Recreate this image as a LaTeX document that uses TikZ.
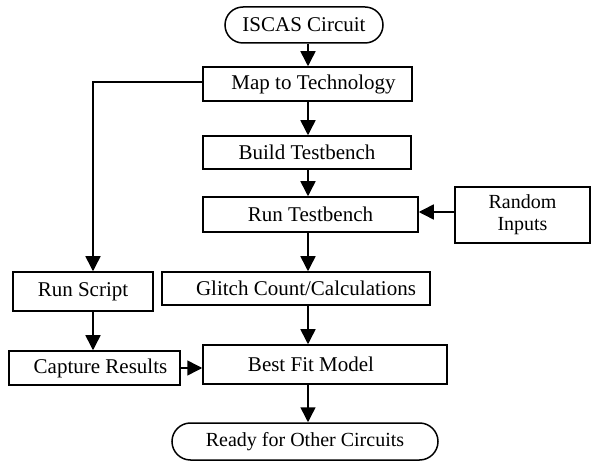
\documentclass[tikz,border=0pt]{standalone}
\usepackage{fontspec}
\setmainfont{Liberation Serif}
\usetikzlibrary{arrows.meta,shapes.misc}
\begin{document}
\begin{tikzpicture}[x=1pt,y=-1pt,
  every node/.style={font=\fontsize{21}{23}\selectfont, inner sep=0pt, line width=1.5pt},
  box/.style={draw, rectangle},
  term/.style={draw, rounded rectangle},
  lbl/.style={font=\fontsize{21}{23}\selectfont},
  arr/.style={line width=1.5pt, -{Triangle[length=15pt,width=15pt]}},
  ln/.style={line width=1.5pt}]
\useasboundingbox (0,0) rectangle (592,462);
\coordinate (trunk) at (308,0);
\coordinate (leftx) at (93,0);
\node[term, minimum width=158, minimum height=36] (iscas) at (304,25) {ISCAS Circuit};
\node[box, minimum width=209, minimum height=34,
  label={[lbl, xshift=6pt]center:Map to Technology}] (map) at (307.5,84) {};
\node[box, minimum width=208, minimum height=33] (build) at (307,152.5) {Build Testbench};
\node[box, minimum width=215, minimum height=35] (runtb) at (310.5,214.5) {Run Testbench};
\node[box, minimum width=135, minimum height=56, align=center,
  font=\fontsize{20}{22}\selectfont] (random) at (522.5,215) {Random\\Inputs};
\node[box, minimum width=268, minimum height=33,
  label={[lbl, xshift=10pt]center:Glitch Count/Calculations}] (glitch) at (296,288.5) {};
\node[box, minimum width=140, minimum height=39] (runscript) at (83,291.5) {Run Script};
\node[box, minimum width=171, minimum height=34,
  label={[lbl, xshift=6pt]center:Capture Results}] (capture) at (94.5,368) {};
\node[box, minimum width=244, minimum height=39,
  label={[lbl, xshift=-14pt]center:Best Fit Model}] (best) at (325,364.5) {};
\node[term, minimum width=266, minimum height=37,
  font=\fontsize{20}{22}\selectfont] (ready) at (305,441.5) {Ready for Other Circuits};
% trunk arrows
\draw[arr] (iscas.south -| trunk) -- (map.north -| trunk);
\draw[arr] (map.south -| trunk) -- (build.north -| trunk);
\draw[arr] (build.south -| trunk) -- (runtb.north -| trunk);
\draw[arr] (runtb.south -| trunk) -- (glitch.north -| trunk);
\draw[arr] (glitch.south -| trunk) -- (best.north -| trunk);
\draw[arr] (best.south -| trunk) -- (ready.north -| trunk);
% side branches
\draw[arr] ([yshift=2pt]map.west) -| (runscript.north -| leftx);
\draw[arr] (runscript.south -| leftx) -- (capture.north -| leftx);
\draw[arr] (capture.east) -- (capture.east -| best.west);
\draw[arr] ([yshift=3pt]random.west) -- ([yshift=3pt]random.west -| runtb.east);
\end{tikzpicture}
\end{document}
